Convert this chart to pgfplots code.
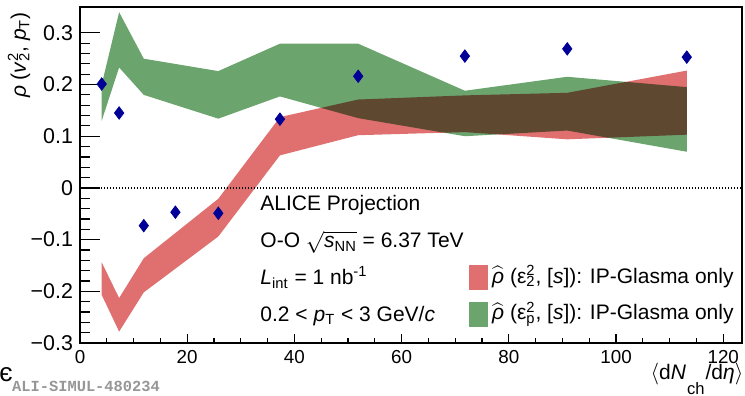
\documentclass[border=0pt]{standalone}
\usepackage{fontspec}
\setmainfont{Liberation Sans}
\setmonofont{Liberation Mono}
\usepackage{pgfplots}
\usetikzlibrary{calc}
\pgfplotsset{compat=1.18}

\definecolor{bandred}{RGB}{224,112,112}
\definecolor{bandgreen}{RGB}{108,164,110}
\definecolor{datablue}{RGB}{0,0,150}
\definecolor{aligray}{RGB}{150,150,150}

% stacked superscript / subscript in the text font
\newcommand\supsub[2]{\rlap{\textsuperscript{#1}}\textsubscript{#2}}
\newcommand\rhohat{$\widehat{\hbox{\itshape ρ}}$}
% deep subscript for the multiplicity label
\newcommand\lowsub[1]{\kern0.5bp\raisebox{-7.5bp}{\fontsize{8.3bp}{9bp}\selectfont #1}\kern0.5bp}

\begin{document}
\begin{tikzpicture}
\begin{axis}[
  at={(0,0)}, anchor=south west,
  scale only axis, width=331bp, height=168bp,
  xmin=0, xmax=123.5, ymin=-0.3, ymax=0.35,
  clip mode=individual,
  axis line style={line width=0.6bp},
  every tick/.style={black, line width=0.6bp},
  tick align=inside, xtick pos=bottom, ytick pos=left,
  xtick={0,20,40,60,80,100,120}, minor x tick num=3,
  ytick={-0.3,-0.2,-0.1,0,0.1,0.2,0.3}, minor y tick num=4,
  yticklabels={−0.3,−0.2,−0.1,0,0.1,0.2,0.3},
  /pgf/number format/assume math mode=true,
  x tick label style={font=\fontsize{9.4bp}{11bp}\selectfont},
  y tick label style={font=\fontsize{10.7bp}{12bp}\selectfont},
  xtick style={/pgfplots/major tick length=4.5bp, /pgfplots/minor tick length=2.5bp},
  ytick style={/pgfplots/major tick length=10bp, /pgfplots/minor tick length=5bp},
]

% zero reference line
\addplot[black, line width=0.6bp, dash pattern=on 0.6bp off 0.9bp]
  coordinates {(0,0) (123.5,0)};

% rho-hat(eps_p^2,[s]) band: upper edge, then lower edge back
\addplot[fill=bandgreen, draw=none] coordinates {
  (4.05,0.200) (7.3,0.340) (11.9,0.250) (25.8,0.226) (37.3,0.279)
  (51.9,0.279) (71.8,0.188) (90.9,0.215) (113.2,0.195)
  (113.2,0.070) (90.9,0.111) (71.8,0.100) (51.9,0.135) (37.3,0.177)
  (25.8,0.134) (11.9,0.180) (7.3,0.233) (4.05,0.130)};

% rho-hat(eps_2^2,[s]) band
\addplot[fill=bandred, draw=none, blend mode=multiply] coordinates {
  (4.05,-0.144) (7.3,-0.213) (11.9,-0.136) (25.8,-0.021) (37.3,0.137)
  (51.9,0.171) (71.8,0.179) (90.9,0.184) (113.2,0.227)
  (113.2,0.103) (90.9,0.094) (71.8,0.108) (51.9,0.102) (37.3,0.063)
  (25.8,-0.094) (11.9,-0.202) (7.3,-0.278) (4.05,-0.207)};

% projected measurement
\addplot[only marks, mark=diamond*, mark size=3.1bp,
  mark options={draw=datablue, fill=datablue}] coordinates {
  (4.05,0.201) (7.3,0.145) (11.9,-0.073) (17.8,-0.047) (25.8,-0.049)
  (37.3,0.133) (51.9,0.216) (71.8,0.255) (90.9,0.269) (113.2,0.253)};

% labels
\node[rotate=90, anchor=base east, font=\fontsize{10.5bp}{12bp}\selectfont]
  at ($(rel axis cs:0,1)+(-27bp,1bp)$)
  {\textit{ρ} (\textit{v}\supsub{2}{2}, \textit{p}\textsubscript{T})};
\node[anchor=base east, inner sep=0pt, font=\fontsize{10.5bp}{12bp}\selectfont]
  at (rel axis cs:1.0025,-0.110)
  {$\langle$d\textit{N}\lowsub{ch}/d\textit{η}$\rangle$};

\begin{scope}[every node/.style={anchor=base west, inner sep=0pt,
    font=\fontsize{10.5bp}{12bp}\selectfont}]
  \node at (rel axis cs:0.272,0.393) {ALICE Projection};
  \node at (rel axis cs:0.272,0.283)
    {O-O $\sqrt{\hbox{\textit{s}\textsubscript{NN}}}$ = 6.37 TeV};
  \node at (rel axis cs:0.272,0.173)
    {\textit{L}\textsubscript{int} = 1 nb\textsuperscript{-1}};
  \node at (rel axis cs:0.272,0.0634)
    {0.2 < \textit{p}\textsubscript{T} < 3 GeV/\textit{c}};

  \fill[bandred] (rel axis cs:0.588,0.158) rectangle (rel axis cs:0.617,0.232);
  \fill[bandgreen] (rel axis cs:0.588,0.0485) rectangle (rel axis cs:0.617,0.123);
  \node at (rel axis cs:0.622,0.178)
    {\rhohat{} (ε\supsub{2}{2}, [\textit{s}]): IP-Glasma only};
  \node at (rel axis cs:0.622,0.0685)
    {\rhohat{} (ε\supsub{2}{p}, [\textit{s}]): IP-Glasma only};

  \node[font=\fontsize{7.7bp}{9bp}\selectfont\ttfamily\bfseries, text=aligray]
    at (rel axis cs:-0.1032,-0.1458) {ALI-SIMUL-480234};
  \node[font=\fontsize{13bp}{15bp}\selectfont]
    at (rel axis cs:-0.1225,-0.1137) {є};
\end{scope}
\end{axis}
\pgfresetboundingbox
\path[use as bounding box] (-40bp,-26.5bp) rectangle (332.5bp,171.5bp);
\end{tikzpicture}
\end{document}
